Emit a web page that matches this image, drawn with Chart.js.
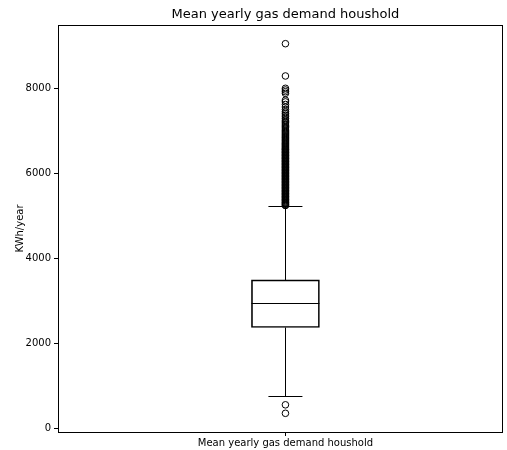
<!DOCTYPE html>
<html>
<head>
<meta charset="utf-8">
<script src="https://cdn.jsdelivr.net/npm/chart.js@4.4.1/dist/chart.umd.min.js"></script>
<style>
  html, body { margin: 0; padding: 0; background: #fff; overflow: hidden; }
  canvas { display: block; }
</style>
</head>
<body>
<canvas id="box" width="507" height="450"></canvas>
<script>
const categories = ['Mean yearly gas demand houshold'];
const chartTitle = 'Mean yearly gas demand houshold';
const yTitle = 'KWh/year';
const yTicks = [0, 2000, 4000, 6000, 8000];

// box statistics
const q1 = [2370];
const median = [2935];
const q3 = [3490];
const whiskerLow = [760];
const whiskerHigh = [5225];

// fliers above and below the whiskers
const outliersHigh = [
  5240, 5255, 5270, 5290, 5305, 5320, 5340, 5360, 5375, 5390,
  5410, 5430, 5445, 5460, 5480, 5500, 5515, 5530, 5550, 5570,
  5585, 5600, 5620, 5640, 5655, 5670, 5690, 5710, 5725, 5740,
  5760, 5780, 5795, 5810, 5830, 5850, 5865, 5880, 5900, 5920,
  5935, 5950, 5970, 5990, 6005, 6020, 6040, 6060, 6075, 6090,
  6110, 6130, 6145, 6160, 6180, 6200, 6215, 6230, 6250, 6270,
  6285, 6300, 6320, 6340, 6355, 6370, 6390, 6410, 6425, 6440,
  6460, 6480, 6495, 6510, 6530, 6550, 6565, 6580, 6600, 6620,
  6640, 6660, 6680, 6700, 6720, 6745, 6770, 6790, 6815, 6840,
  6860, 6885, 6910, 6935, 6960, 6985, 7010, 7040, 7070, 7100,
  7130, 7160, 7190, 7220, 7250, 7290, 7330, 7370, 7410, 7450,
  7500, 7560, 7620, 7680, 7720, 7880, 7920, 7960, 8000, 8290,
  9050
];
const outliersLow = [550, 350];

const font = "'DejaVu Sans', sans-serif";
const BOX_W = 68;

// median, whiskers, frame and title (the axes run past the right edge)
const boxExtras = {
  id: 'boxExtras',
  afterDatasetsDraw(chart) {
    const ctx = chart.ctx;
    const x = chart.scales.x;
    const y = chart.scales.y;
    const cx = x.getPixelForValue(1);
    const half = BOX_W / 2;
    const capHalf = half / 2;
    const vx = Math.round(cx) + 0.5;
    const px = v => Math.round(y.getPixelForValue(v)) + 0.5;
    ctx.save();
    ctx.strokeStyle = '#000';
    ctx.lineWidth = 1;
    ctx.beginPath();
    ctx.moveTo(cx - half, px(median[0]));
    ctx.lineTo(cx + half, px(median[0]));
    ctx.moveTo(vx, px(q3[0]));
    ctx.lineTo(vx, px(whiskerHigh[0]));
    ctx.moveTo(vx, px(q1[0]));
    ctx.lineTo(vx, px(whiskerLow[0]));
    ctx.moveTo(cx - capHalf, px(whiskerHigh[0]));
    ctx.lineTo(cx + capHalf, px(whiskerHigh[0]));
    ctx.moveTo(cx - capHalf, px(whiskerLow[0]));
    ctx.lineTo(cx + capHalf, px(whiskerLow[0]));
    ctx.stroke();
    ctx.restore();
  },
  afterDraw(chart) {
    const a = chart.chartArea;
    const ctx = chart.ctx;
    ctx.save();
    ctx.strokeStyle = '#000';
    ctx.lineWidth = 1;
    ctx.strokeRect(Math.round(a.left) + 0.5, Math.round(a.top) + 0.5,
      Math.round(a.right - a.left), Math.round(a.bottom - a.top));
    ctx.fillStyle = '#000';
    ctx.font = '13px ' + font;
    ctx.textAlign = 'center';
    ctx.textBaseline = 'middle';
    ctx.fillText(chartTitle, chart.scales.x.getPixelForValue(1), 15);
    ctx.restore();
  }
};

const fliers = outliersHigh.concat(outliersLow).map(v => ({ x: 1, y: v }));

new Chart(document.getElementById('box'), {
  type: 'bar',
  data: {
    datasets: [{
      type: 'bar',
      data: [{ x: 1, y: [q1[0], q3[0]] }],
      backgroundColor: 'rgba(0,0,0,0)',
      borderColor: '#000',
      borderWidth: 1,
      borderSkipped: false,
      barThickness: BOX_W
    }, {
      type: 'line',
      data: fliers,
      showLine: false,
      pointStyle: 'circle',
      pointRadius: 3.3,
      pointBorderWidth: 1,
      pointBorderColor: '#000',
      pointBackgroundColor: 'rgba(0,0,0,0)'
    }]
  },
  options: {
    responsive: false,
    animation: false,
    layout: { padding: { left: 0, right: 0, top: 25, bottom: 0 } },
    plugins: {
      legend: { display: false },
      tooltip: { enabled: false },
      title: { display: false }
    },
    scales: {
      x: {
        type: 'linear',
        min: 0.5,
        max: 1.4761,
        offset: false,
        border: { display: false },
        grid: { display: true, drawOnChartArea: false, offset: false, color: '#000', tickLength: 4 },
        ticks: { color: '#000', font: { family: font, size: 10 }, padding: 1,
          callback: v => categories[v - 1] },
        afterBuildTicks: s => { s.ticks = categories.map((c, i) => ({ value: i + 1 })); },
        afterFit: s => {
          s.height = 18;
          // no side padding for the tick label, so the axes reach the canvas edge
          s.paddingLeft = 0;
          s.paddingRight = 0;
        }
      },
      y: {
        min: -90,
        max: 9490,
        border: { display: false },
        grid: { display: true, drawOnChartArea: false, color: '#000', tickLength: 4 },
        ticks: { color: '#000', font: { family: font, size: 10 }, padding: 3, callback: v => String(v) },
        afterBuildTicks: s => { s.ticks = yTicks.map(v => ({ value: v })); },
        title: {
          display: true,
          text: yTitle,
          color: '#000',
          font: { family: font, size: 10 },
          padding: { top: 14, bottom: 0 }
        },
        afterFit: s => { s.width = 58; }
      }
    }
  },
  plugins: [boxExtras]
});
</script>
</body>
</html>
